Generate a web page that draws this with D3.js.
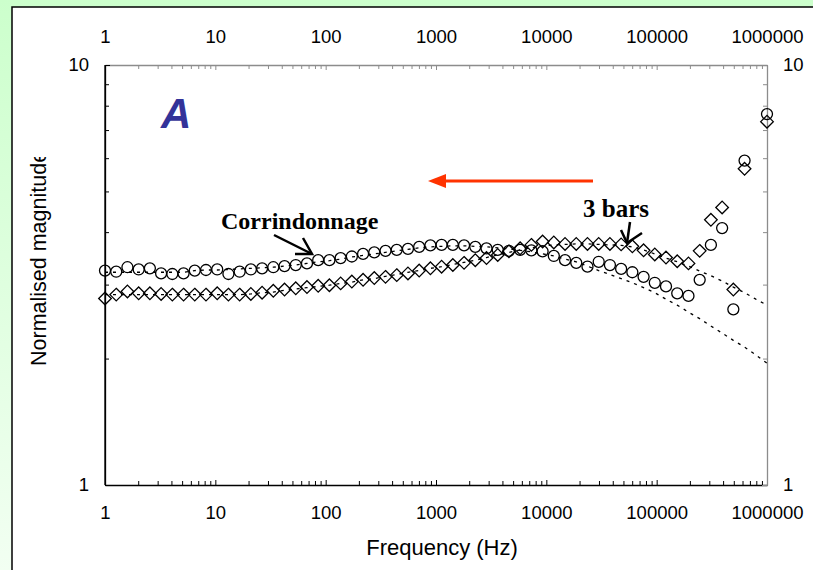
<!DOCTYPE html>
<html>
<head>
<meta charset="utf-8">
<script src="https://cdn.jsdelivr.net/npm/d3@7"></script>
<style>
    body { margin: 0; background: #fff; }
    svg { display: block; }
</style>
</head>
<body>
<svg id="chart" width="813" height="570"></svg>
<script>

// measured frequencies (Hz), log sweep 1 Hz .. 1 MHz
var frequency = [1, 1.264, 1.597, 2.019, 2.551, 3.225, 4.076, 5.151, 6.510, 8.228,
    10.40, 13.14, 16.61, 20.99, 26.53, 33.53, 42.38, 53.56, 67.69, 85.55,
    108.1, 136.7, 172.7, 218.3, 275.9, 348.7, 440.7, 557.0, 704.0, 889.7,
    1124, 1421, 1796, 2270, 2869, 3626, 4582, 5791, 7319, 9250,
    11690, 14775, 18673, 23600, 29826, 37695, 47640, 60210, 76095, 96170,
    121500, 153600, 194200, 245400, 310100, 392000, 495400, 626100, 791100, 1000000];

// circles
var corrindonnage = [3.24, 3.22, 3.30, 3.26, 3.28, 3.19, 3.18, 3.19, 3.24, 3.25,
    3.26, 3.18, 3.22, 3.26, 3.28, 3.30, 3.32, 3.34, 3.37, 3.43,
    3.43, 3.47, 3.50, 3.55, 3.58, 3.61, 3.63, 3.65, 3.69, 3.72,
    3.73, 3.73, 3.72, 3.69, 3.66, 3.63, 3.61, 3.63, 3.62, 3.60,
    3.51, 3.43, 3.38, 3.31, 3.40, 3.34, 3.27, 3.21, 3.13, 3.03,
    2.97, 2.86, 2.82, 3.08, 3.73, 4.09, 2.62, 5.92, null, 7.64];

// diamonds
var troisBars = [2.78, 2.84, 2.89, 2.86, 2.86, 2.85, 2.84, 2.84, 2.84, 2.84,
    2.86, 2.84, 2.84, 2.85, 2.87, 2.90, 2.92, 2.94, 2.96, 2.98,
    2.99, 3.02, 3.05, 3.08, 3.11, 3.13, 3.16, 3.19, 3.24, 3.28,
    3.31, 3.34, 3.38, 3.43, 3.47, 3.53, 3.60, 3.66, 3.73, 3.80,
    3.78, 3.75, 3.75, 3.75, 3.75, 3.75, 3.74, 3.70, 3.62, 3.54,
    3.48, 3.41, 3.37, 3.61, 4.28, 4.58, 2.92, 5.66, null, 7.33];

// model curves (dotted)
var fitCorrindonnage = [3.21, 3.21, 3.21, 3.21, 3.21, 3.21, 3.21, 3.21, 3.24, 3.25,
    3.25, 3.26, 3.27, 3.28, 3.29, 3.30, 3.32, 3.34, 3.37, 3.40,
    3.42, 3.45, 3.49, 3.52, 3.55, 3.58, 3.61, 3.64, 3.67, 3.69,
    3.70, 3.71, 3.71, 3.70, 3.69, 3.67, 3.65, 3.62, 3.59, 3.55,
    3.51, 3.45, 3.40, 3.32, 3.24, 3.17, 3.10, 3.03, 2.95, 2.87,
    2.77, 2.68, 2.58, 2.49, 2.39, 2.30, 2.21, 2.13, 2.04, 1.95];

var fitTroisBars = [2.84, 2.84, 2.84, 2.84, 2.84, 2.84, 2.84, 2.84, 2.84, 2.84,
    2.84, 2.84, 2.84, 2.85, 2.87, 2.88, 2.91, 2.93, 2.95, 2.97,
    2.99, 3.02, 3.04, 3.08, 3.10, 3.14, 3.17, 3.21, 3.24, 3.28,
    3.31, 3.35, 3.39, 3.43, 3.48, 3.53, 3.58, 3.63, 3.67, 3.71,
    3.73, 3.74, 3.75, 3.75, 3.74, 3.73, 3.72, 3.69, 3.63, 3.55,
    3.47, 3.40, 3.32, 3.23, 3.15, 3.06, 2.96, 2.87, 2.77, 2.68];

var xMajor = [1, 10, 100, 1000, 10000, 100000, 1000000];
var xMajorLabels = ["1", "10", "100", "1000", "10000", "100000", "1000000"];
var yMajor = [1, 10];
var yMajorLabels = ["1", "10"];
var minorSteps = [2, 3, 4, 5, 6, 7, 8, 9];

var svg = d3.select('#chart');
var plot = { left: 105, right: 767, top: 65, bottom: 485 };

var x = d3.scaleLog().domain([1, 1e6]).range([plot.left, plot.right]);
var y = d3.scaleLog().domain([1, 10]).range([plot.bottom, plot.top]);

// background
var defs = svg.append('defs');
var grad = defs.append('linearGradient')
    .attr('id', 'bg')
    .attr('x1', 0).attr('y1', 0).attr('x2', 0).attr('y2', 1);
grad.append('stop').attr('offset', '0%').attr('stop-color', '#ccffcc');
grad.append('stop').attr('offset', '100%').attr('stop-color', '#f2fff2');

defs.append('clipPath').attr('id', 'ytitle-clip')
    .append('rect')
    .attr('x', 0).attr('y', 157).attr('width', 100).attr('height', 300);

svg.append('rect')
    .attr('width', 813).attr('height', 570)
    .attr('fill', 'url(#bg)');

svg.append('rect')
    .attr('x', 12).attr('y', 7)
    .attr('width', 900).attr('height', 700)
    .attr('fill', '#fff')
    .attr('stroke', '#000')
    .style('stroke-width', 1.5);

// minor tick values
var xMinor = [];
xMajor.slice(0, -1).forEach(function(d) {
    minorSteps.forEach(function(m) { xMinor.push(d * m); });
});
var yMinor = minorSteps.slice();

function styleAxis(g, color) {
    g.select('.domain').attr('stroke', color).style('stroke-width', 1.3);
    g.selectAll('.tick line').attr('stroke', color).style('stroke-width', 1);
    g.selectAll('.tick text')
        .attr('fill', '#000')
        .style('font-family', '"Liberation Sans", Arial, sans-serif')
        .style('font-size', '18.5px');
}

function drawAxis(axisFn, translate, scale, major, labels, minor, color, pad) {
    var gMinor = svg.append('g')
        .attr('transform', translate)
        .call(axisFn(scale).tickValues(minor).tickSizeInner(-4).tickSizeOuter(0).tickFormat(''));
    styleAxis(gMinor, color);
    gMinor.select('.domain').remove();

    var gMajor = svg.append('g')
        .attr('transform', translate)
        .call(axisFn(scale).tickValues(major).tickSizeInner(-5).tickSizeOuter(0)
            .tickPadding(pad)
            .tickFormat(function(d, i) { return labels[i]; }));
    styleAxis(gMajor, color);
}

drawAxis(d3.axisBottom, 'translate(0,' + plot.bottom + ')', x, xMajor, xMajorLabels, xMinor, '#000', 21);
drawAxis(d3.axisTop, 'translate(0,' + plot.top + ')', x, xMajor, xMajorLabels, xMinor, '#8c8c8c', 22);
drawAxis(d3.axisLeft, 'translate(' + plot.left + ',0)', y, yMajor, yMajorLabels, yMinor, '#000', 16);
drawAxis(d3.axisRight, 'translate(' + plot.right + ',0)', y, yMajor, yMajorLabels, yMinor, '#8c8c8c', 16);

// keep left line on top of grey ones
svg.append('line')
    .attr('x1', plot.left).attr('x2', plot.left)
    .attr('y1', plot.top).attr('y2', plot.bottom)
    .attr('stroke', '#000').style('stroke-width', 1.3);

// axis titles
svg.append('text')
    .attr('x', 442).attr('y', 555)
    .attr('text-anchor', 'middle')
    .style('font-family', '"Liberation Sans", Arial, sans-serif')
    .style('font-size', '22px')
    .text('Frequency (Hz)');

svg.append('g')
    .attr('clip-path', 'url(#ytitle-clip)')
    .append('text')
    .attr('transform', 'translate(46,366) rotate(-90)')
    .attr('text-anchor', 'start')
    .style('font-family', '"Liberation Sans", Arial, sans-serif')
    .style('font-size', '21.5px')
    .text('Normalised magnitude');

// model curves
var idx = d3.range(frequency.length);

var fitLine = function(values) {
    return d3.line()
        .x(function(i) { return x(frequency[i]); })
        .y(function(i) { return y(values[i]); })(idx);
};

[fitCorrindonnage, fitTroisBars].forEach(function(values) {
    svg.append('path')
        .attr('d', fitLine(values))
        .attr('fill', 'none')
        .attr('stroke', '#000')
        .style('stroke-width', 1.3)
        .style('stroke-dasharray', '3, 5');
});

// markers
svg.append('g').selectAll('circle')
    .data(idx.filter(function(i) { return corrindonnage[i] !== null; }))
    .enter().append('circle')
    .attr('cx', function(i) { return x(frequency[i]); })
    .attr('cy', function(i) { return y(corrindonnage[i]); })
    .attr('r', 5.5)
    .attr('fill', 'none')
    .attr('stroke', '#000')
    .style('stroke-width', 1.3);

svg.append('g').selectAll('path')
    .data(idx.filter(function(i) { return troisBars[i] !== null; }))
    .enter().append('path')
    .attr('d', 'M0,-6.3L6.3,0L0,6.3L-6.3,0Z')
    .attr('transform', function(i) {
        return 'translate(' + x(frequency[i]) + ',' + y(troisBars[i]) + ')';
    })
    .attr('fill', 'none')
    .attr('stroke', '#000')
    .style('stroke-width', 1.3);

// panel letter
svg.append('text')
    .attr('x', 161).attr('y', 128)
    .style('font-family', '"Liberation Sans", Arial, sans-serif')
    .style('font-size', '42px')
    .style('font-weight', 'bold')
    .style('font-style', 'italic')
    .attr('fill', '#333399')
    .text('A');

// red arrow (direction of frequency sweep)
svg.append('line')
    .attr('x1', 593).attr('y1', 181)
    .attr('x2', 440).attr('y2', 181)
    .attr('stroke', '#ff3300')
    .style('stroke-width', 3);

svg.append('path')
    .attr('d', 'M428,181L446,174L446,188Z')
    .attr('fill', '#ff3300');

// annotations
var serif = '"Liberation Serif", "Times New Roman", serif';

svg.append('text')
    .attr('x', 221).attr('y', 229)
    .style('font-family', serif)
    .style('font-size', '24px')
    .style('font-weight', 'bold')
    .text('Corrindonnage');

svg.append('text')
    .attr('x', 583).attr('y', 217)
    .style('font-family', serif)
    .style('font-size', '25px')
    .style('font-weight', 'bold')
    .text('3 bars');

function pointer(points) {
    svg.append('path')
        .attr('d', d3.line()(points))
        .attr('fill', 'none')
        .attr('stroke', '#000')
        .style('stroke-width', 2.5)
        .style('stroke-linejoin', 'miter');
}

pointer([[274, 235], [312, 254]]);
pointer([[295, 254], [312, 254], [303, 238]]);

pointer([[630, 222], [627, 243]]);
pointer([[621, 230], [627, 243], [642, 233]]);

</script>
</body>
</html>
